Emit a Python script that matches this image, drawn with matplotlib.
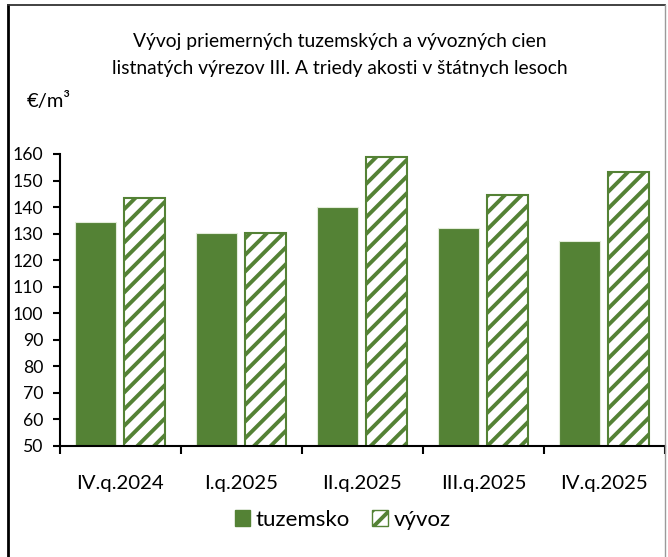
import matplotlib
matplotlib.use("Agg")
import matplotlib.pyplot as plt, numpy as np
from matplotlib.lines import Line2D
from matplotlib.patches import Patch

categories = ["IV.q.2024", "I.q.2025", "II.q.2025", "III.q.2025", "IV.q.2025"]
tuzemsko = [134.5, 130.1, 140.1, 132.0, 127.3]
vyvoz = [143.5, 130.3, 158.8, 144.4, 153.3]
yticks = list(range(50, 161, 10))

green = "#548235"
plt.rcParams["font.family"] = ["Lato", "DejaVu Sans"]
plt.rcParams["hatch.linewidth"] = 2.8
plt.rcParams["hatch.color"] = green

fig = plt.figure(figsize=(6.68, 5.57), dpi=100)
ax = fig.add_axes([60/668, 1-446/557, 605/668, (446-154)/557])

x = np.arange(len(categories))
w = 0.34
ax.bar(x - 0.21, tuzemsko, w, color=green, edgecolor="#e2ecd9", linewidth=0.8)
ax.bar(x + 0.2, vyvoz, w, color="white", edgecolor=green, hatch="//", linewidth=1.5)

ax.set_ylim(50, 160)
ax.set_xlim(-0.5, len(categories) - 0.5)
ax.set_yticks(yticks)
ax.set_yticklabels([str(v) for v in yticks], fontsize=12.7)
ax.tick_params(axis="y", length=5, width=1.5, pad=7, colors="black")
ax.set_xticks(x)
ax.set_xticklabels(categories, fontsize=14.7)
ax.tick_params(axis="x", length=0, pad=21)
ax.set_xticks(np.arange(-0.5, len(categories)), minor=True)
ax.tick_params(axis="x", which="minor", length=6, width=1.5)
for s in ["top", "right"]:
    ax.spines[s].set_visible(False)
for s in ["left", "bottom"]:
    ax.spines[s].set_linewidth(1.5)

fig.text(0.509, 1-42/557, "Vývoj priemerných tuzemských a vývozných cien",
         ha="center", va="center", fontsize=13.9)
fig.text(0.509, 1-68/557, "listnatých výrezov III. A triedy akosti v štátnych lesoch",
         ha="center", va="center", fontsize=13.9)
fig.text(27/668, 1-101/557, "€/m³", ha="left", va="center", fontsize=14.5)

handles = [Patch(facecolor=green, edgecolor=green),
           Patch(facecolor="white", edgecolor=green, hatch="//")]
fig.legend(handles, ["tuzemsko", "vývoz"], loc="center", bbox_to_anchor=(0.513, 1-520/557),
           ncol=2, frameon=False, fontsize=16, handlelength=0.7, handleheight=0.7,
           handletextpad=0.25, columnspacing=1.0)

# outer frame
fig.add_artist(Line2D([8/668, 8/668], [0, 1-5/557], color="black", lw=2))
fig.add_artist(Line2D([8/668, 665/668], [1-5/557, 1-5/557], color="#333333", lw=1.3))
fig.add_artist(Line2D([665/668, 665/668], [0, 1-5/557], color="#9a9a9a", lw=1))

fig.savefig("out.png", dpi=100)
